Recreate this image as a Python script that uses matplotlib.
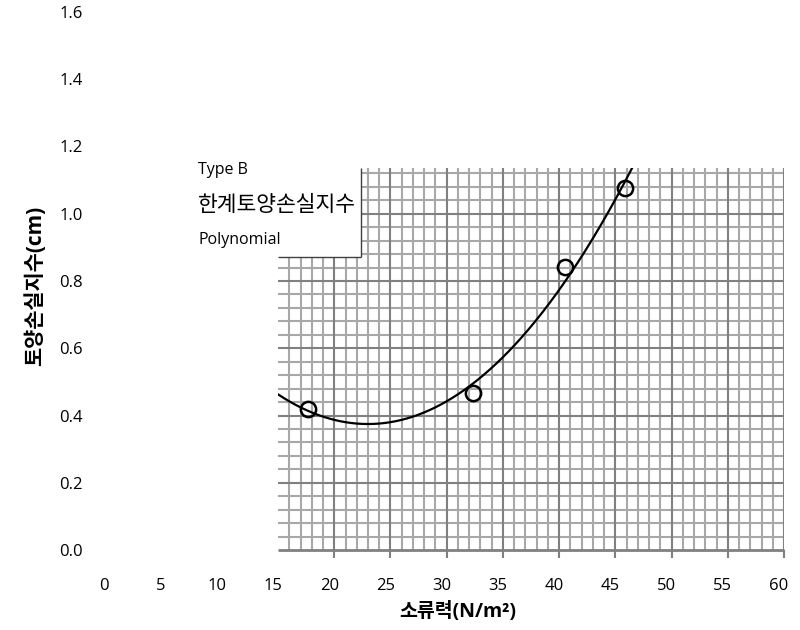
import numpy as np
import matplotlib
matplotlib.use('Agg')
import matplotlib.pyplot as plt
from matplotlib.patches import Rectangle
from matplotlib.transforms import ScaledTranslation

plt.rcParams['font.family'] = ['Open Sans', 'Noto Sans CJK KR', 'DejaVu Sans']

# ---- data ----
shear_stress = [17.7, 32.3, 40.5, 45.9]
soil_loss = [0.418, 0.467, 0.841, 1.077]
x_ticks = list(range(0, 61, 5))
y_ticks = [0.0, 0.2, 0.4, 0.6, 0.8, 1.0, 1.2, 1.4, 1.6]
legend_lines = ['Type B', '한계토양손실지수', 'Polynomial']
x_label = '소류력(N/m²)'
y_label = '토양손실지수(cm)'
poly_degree = 2

# plot-area (grid) extents
grid_x0, grid_x1 = 15, 60
grid_y0, grid_y1 = 0.0, 1.136

fig = plt.figure(figsize=(8, 6.3), dpi=100)
ax = fig.add_axes([109.4 / 800, 80 / 630, 674.6 / 800, 538 / 630])
ax.set_xlim(0, 60)
ax.set_ylim(0, 1.6)
for s in ax.spines.values():
    s.set_visible(False)
ax.set_xticks(x_ticks)
ax.set_xticklabels([str(v) for v in x_ticks])
ax.set_yticks(y_ticks)
ax.set_yticklabels([f'{v:.1f}' for v in y_ticks])
ax.tick_params(axis='x', length=0, labelsize=12, pad=20)
ax.tick_params(axis='y', length=0, labelsize=12, pad=19)
off = ScaledTranslation(-5 / 100, 0, fig.dpi_scale_trans)
for lab in ax.get_xticklabels():
    lab.set_transform(lab.get_transform() + off)

minor_c = '#A8A8A8'
major_c = '#808080'
lw = 1.5

# vertical grid
for xv in range(grid_x0 + 1, grid_x1 + 1):
    major = (xv % 5 == 0)
    ax.vlines(xv, grid_y0, grid_y1, color=major_c if major else minor_c,
              lw=lw, zorder=2 if major else 1)
# horizontal grid
n_h = int(round(grid_y1 / 0.04))
for i in range(1, n_h + 1):
    yv = i * 0.04
    major = (i % 5 == 0)
    ax.hlines(yv, grid_x0, grid_x1, color=major_c if major else minor_c,
              lw=lw, zorder=2 if major else 1)
# bottom axis line and ticks
ax.hlines(0, grid_x0, grid_x1, color=major_c, lw=2, zorder=3, clip_on=False)
major_ticks = [v for v in x_ticks if v > grid_x0]
ax.plot(major_ticks, [0] * len(major_ticks), linestyle='none', marker=3,
        markersize=6, mec=major_c, mew=1.5, clip_on=False, zorder=3)

# legend box
lx0, lx1, ly0, ly1 = 7.17, 22.38, 0.871, 1.175
ax.add_patch(Rectangle((lx0, ly0), lx1 - lx0, ly1 - ly0, facecolor='white',
                       edgecolor='none', zorder=4))
ax.vlines(lx1, ly0, grid_y1, color='#404040', lw=1, zorder=5)
ax.hlines(ly0, grid_x0, lx1, color='#404040', lw=1, zorder=5)
ax.text(7.9, 1.130, legend_lines[0], fontsize=11.5, va='center', ha='left', zorder=6)
ax.text(7.9, 1.026, legend_lines[1], fontsize=15.5, va='center', ha='left', zorder=6)
ax.text(7.9, 0.922, legend_lines[2], fontsize=11.5, va='center', ha='left', zorder=6)

# polynomial trendline
coef = np.polyfit(shear_stress, soil_loss, poly_degree)
xs = np.linspace(grid_x0, 50, 500)
ys = np.polyval(coef, xs)
line, = ax.plot(xs, ys, color='black', lw=1.6, zorder=7)
clip = Rectangle((grid_x0, grid_y0), grid_x1 - grid_x0, grid_y1 - grid_y0,
                 transform=ax.transData)
line.set_clip_path(clip)

# data points
ax.plot(shear_stress, soil_loss, linestyle='none', marker='o', markersize=11,
        mfc='none', mec='black', mew=1.8, zorder=8)

fig.text(458 / 800, 1 - 612 / 630, x_label, fontsize=14, fontweight='bold',
         ha='center', va='center')
fig.text(35 / 800, 1 - 286 / 630, y_label, fontsize=15, fontweight='bold',
         ha='center', va='center', rotation=90)

fig.savefig('out.png', dpi=100)
